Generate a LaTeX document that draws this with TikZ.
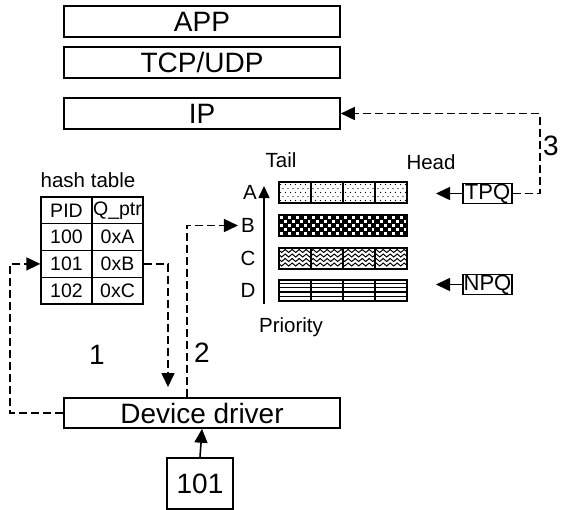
\documentclass[tikz,border=0pt]{standalone}
\usepackage{fontspec}
\setmainfont{Liberation Sans}
\usetikzlibrary{arrows.meta,decorations.pathmorphing}
\newcommand\fsbig{\fontsize{28}{32}\selectfont}
\newcommand\fsmid{\fontsize{20.5}{24}\selectfont}
\newcommand\fstag{\fontsize{22}{24}\selectfont}
\newcommand\fscell{\fontsize{19.5}{22}\selectfont}
\begin{document}
\begin{tikzpicture}[x=1pt,y=-1pt,
  layer/.style={draw,line width=1.6pt,minimum width=276pt,minimum height=31pt,inner sep=0pt,font=\fsbig},
  tcell/.style={draw,line width=1.4pt,minimum width=51pt,minimum height=26.75pt,inner sep=0pt,font=\fscell},
  tag/.style={draw,line width=1.4pt,minimum width=49pt,minimum height=18pt,inner sep=0pt,font=\fstag},
  lbl/.style={inner sep=0pt,font=\fsmid},
  num/.style={inner sep=0pt,font=\fsbig},
  tip/.style={-{Triangle[length=14pt,width=13pt]}},
  dashline/.style={line width=1.6pt,dash pattern=on 8pt off 4pt},
  solidline/.style={line width=1.6pt}
]
\useasboundingbox (0,0) rectangle (564,509);

% protocol stack
\node[layer] (app) at (202,21.5) {APP};
\node[layer] (tcp) at (202,62.5) {TCP/UDP};
\node[layer] (ip)  at (202,113.5) {IP};

% device driver and incoming packet
\node[layer,minimum height=30pt] (dd) at (202,413) {Device driver};
\node[draw,line width=1.6pt,minimum width=66pt,minimum height=51pt,inner sep=0pt,font=\fsbig] (pkt) at (200,483.5) {101};
\draw[solidline,tip] (pkt.north) -- (dd.south);

% hash table
\node[lbl] (htl) at (88,180) {hash table};
\node[tcell] (hpid) at (66.5,210.4) {PID};
\node[tcell] (hq)   at (117.5,210.4) {Q\_ptr};
\node[tcell] (h100) at (66.5,237.1) {100};
\node[tcell] (hA)   at (117.5,237.1) {0xA};
\node[tcell] (h101) at (66.5,263.9) {101};
\node[tcell] (hB)   at (117.5,263.9) {0xB};
\node[tcell] (h102) at (66.5,290.6) {102};
\node[tcell] (hC)   at (117.5,290.6) {0xC};

% priority queues: A dotted, B checkered, C wavy, D lined
\begin{scope}
  \clip (279,182) rectangle (407,203);
  \foreach \j in {0,...,4}{
    \foreach \i in {0,...,26}{
      \fill ({280.5+\i*5+mod(\j,2)*2.5},{184.5+\j*4}) circle (0.65);
    }
  }
\end{scope}
\begin{scope}
  \clip (279,215) rectangle (407,236);
  \fill (279,215) rectangle (407,236);
  \foreach \j in {0,...,5}{
    \foreach \i in {0,...,16}{
      \fill[white] ({279.5+(2*\i+mod(\j,2))*4},{215.5+\j*4}) rectangle ++(3,3);
    }
  }
\end{scope}
\begin{scope}
  \clip (279,248) rectangle (407,269);
  \foreach \y in {251,255.5,260,264.5}{
    \draw[line width=1pt,decorate,decoration={snake,amplitude=1.5pt,segment length=7pt}] (276,\y) -- (412,\y);
  }
\end{scope}
\begin{scope}
  \clip (279,280) rectangle (407,301);
  \foreach \y in {283.5,287.5,292,296.5}{
    \draw[line width=1.1pt] (279,\y) -- (407,\y);
  }
\end{scope}
\foreach \t/\b in {182/203,215/236,248/269,280/301}{
  \draw[line width=1.4pt] (279,\t) rectangle (407,\b);
  \foreach \x in {311,343,375}{\draw[line width=1.1pt] (\x,\t) -- (\x,\b);}
}

% queue labels and priority axis
\node[lbl] (tail) at (281,160) {Tail};
\node[lbl] (head) at (431,162) {Head};
\node[lbl] (lA) at (250,192.5) {A};
\node[lbl,inner sep=3pt] (lB) at (248,225.5) {B};
\node[lbl] (lC) at (248,258.5) {C};
\node[lbl] (lD) at (248,290.5) {D};
\coordinate (pbase) at (264,304);
\coordinate (ptop) at (264,186);
\draw[solidline,-{Triangle[length=12pt,width=11pt]}] (pbase) -- (ptop);
\node[lbl] (prio) at (291,327) {Priority};

% queue pointers
\node[tag] (tpq) at (487.5,193.5) {TPQ};
\node[tag] (npq) at (487.5,284.5) {NPQ};
\coordinate (tpqtip) at (436,193.5);
\coordinate (npqtip) at (436,284.5);
\draw[solidline,tip] (tpq.west) -- (tpqtip);
\draw[solidline,tip] (npq.west) -- (npqtip);

% numbered steps
\coordinate (downtip) at (168,387);
\draw[dashline,tip] (dd.west) -- ([xshift=-53pt]dd.west) |- (h101.west);
\draw[dashline,tip] (hB.east) -| (downtip);
\draw[dashline,tip] ([xshift=-15pt]dd.north) |- (lB.west);
\draw[dashline,tip] (tpq.east) -- ([xshift=27pt]tpq.east) |- (ip.east);
\node[num] (n1) at (97,355) {1};
\node[num] (n2) at (202,353) {2};
\node[num] (n3) at (551,146) {3};
\end{tikzpicture}
\end{document}
